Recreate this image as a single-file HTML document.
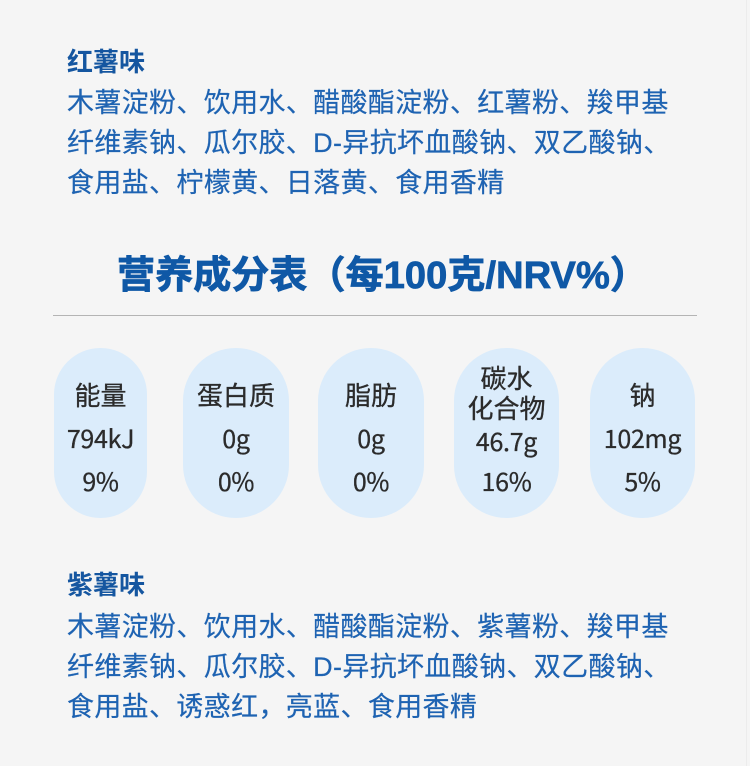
<!DOCTYPE html>
<html>
<head>
<meta charset="utf-8">
<style>
  html,body{margin:0;padding:0;}
  body{width:750px;height:766px;background:#f5f5f5;position:relative;overflow:hidden;
    font-family:"Liberation Sans","Noto Sans CJK SC",sans-serif;}
  .abs{position:absolute;white-space:nowrap;}
  .h{left:67px;font-size:26px;font-weight:bold;color:#1556a0;line-height:40px;height:40px;}
  .body{left:67px;font-size:27px;color:#1e63b2;line-height:40px;letter-spacing:0.35px;-webkit-text-stroke:0.2px #1e63b2;}
  .title{left:4px;width:757px;text-align:center;font-size:38px;font-weight:bold;color:#0f58a6;line-height:50px;-webkit-text-stroke:0.8px #0f58a6;letter-spacing:0.1px;}
  .div{left:53px;width:644px;top:315px;height:1px;background:#b4b4b4;}
  .pill{position:absolute;top:348px;height:170px;background:#dbecfb;border-radius:999px;}
  .pt{position:absolute;left:0;right:0;text-align:center;font-family:"Noto Sans CJK SC",sans-serif;
      font-size:26px;color:#2b2b2b;line-height:30px;height:30px;-webkit-text-stroke:0.3px #2b2b2b;}
  .num{font-size:25px;letter-spacing:-0.3px;}
</style>
</head>
<body>
<div class="abs" style="left:746px;top:0;width:1px;height:766px;background:#ececec;"></div>

<div class="abs h" style="top:42px;">红薯味</div>
<div class="abs body" style="top:82.5px;">木薯淀粉、饮用水、醋酸酯淀粉、红薯粉、羧甲基<br>纤维素钠、瓜尔胶、D-异抗坏血酸钠、双乙酸钠、<br>食用盐、柠檬黄、日落黄、食用香精</div>

<div class="abs title" style="top:251px;">营养成分表（每100克/NRV%）</div>
<div class="abs div"></div>

<div class="pill" style="left:54px;width:93px;">
  <div class="pt" style="top:32px;">能量</div>
  <div class="pt num" style="top:75px;">794kJ</div>
  <div class="pt num" style="top:118px;">9%</div>
</div>
<div class="pill" style="left:183px;width:106px;">
  <div class="pt" style="top:32px;">蛋白质</div>
  <div class="pt num" style="top:75px;">0g</div>
  <div class="pt num" style="top:118px;">0%</div>
</div>
<div class="pill" style="left:318px;width:106px;">
  <div class="pt" style="top:32px;">脂肪</div>
  <div class="pt num" style="top:75px;">0g</div>
  <div class="pt num" style="top:118px;">0%</div>
</div>
<div class="pill" style="left:454px;width:105px;">
  <div class="pt" style="top:15px;">碳水</div>
  <div class="pt" style="top:45px;">化合物</div>
  <div class="pt num" style="top:78px;">46.7g</div>
  <div class="pt num" style="top:118px;">16%</div>
</div>
<div class="pill" style="left:590px;width:105px;">
  <div class="pt" style="top:32px;">钠</div>
  <div class="pt num" style="top:75px;">102mg</div>
  <div class="pt num" style="top:118px;">5%</div>
</div>

<div class="abs h" style="top:564.5px;">紫薯味</div>
<div class="abs body" style="top:606.5px;">木薯淀粉、饮用水、醋酸酯淀粉、紫薯粉、羧甲基<br>纤维素钠、瓜尔胶、D-异抗坏血酸钠、双乙酸钠、<br>食用盐、诱惑红，亮蓝、食用香精</div>
</body>
</html>
